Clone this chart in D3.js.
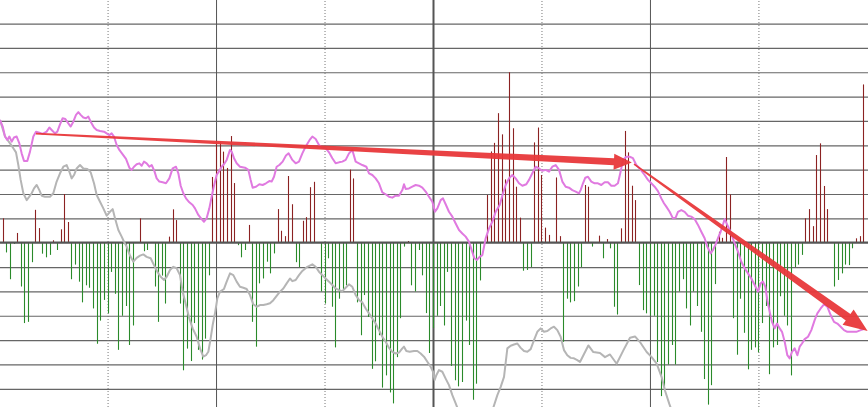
<!DOCTYPE html>
<html><head><meta charset="utf-8">
<script src="https://cdn.jsdelivr.net/npm/d3@7"></script>
<style>html,body{margin:0;padding:0;background:#fff;overflow:hidden}svg{display:block}</style>
</head><body>
<svg id="chart" width="868" height="407"></svg>
<script>
// ---- data ----
const bars = [1.0,-0.4,-1.5,-0.05,0.4,-1.8,-3.3,-3.25,-0.8,1.35,
0.6,-0.45,-0.6,-0.5,0.1,-0.3,0.55,2.0,0.85,-1.5,
-0.9,-1.6,-2.45,-1.75,-1.85,-2.7,-4.15,-3.2,-2.35,-2.9,
-1.2,-2.1,-4.4,-3.0,-2.6,-4.2,-3.4,0,1.0,-0.35,
-0.3,0,-1.8,-3.25,-1.35,-2.5,0.25,1.37,0.93,-2.5,
-5.24,-4.35,-4.86,-3.3,-4.4,-4.8,-3.94,-1.34,2.7,4.15,
4.15,3.74,3.07,4.38,2.45,-0.1,-0.6,-0.3,0.73,-3.25,
-4.27,-1.67,-1.47,-0.78,-1.26,-0.44,1.38,0.49,0.27,2.74,
1.58,-0.8,-1.0,0.9,1.05,2.28,2.5,0,-2.0,-2.5,
-0.64,-2.63,-4.3,-2.3,-1.9,-1.75,3.0,2.64,-2.45,-3.8,
-2.15,-3.05,-5.18,-4.87,-3.8,-5.95,-5.45,-6.15,-6.6,-4.7,
-3.1,-0.16,0.07,-1.75,-2.0,-0.3,-1.34,-2.89,-4.53,-3.5,
-3.0,-2.6,-3.4,-1.2,-5.06,-5.65,-5.9,-5.72,-3.2,-4.2,
-6.45,-5.79,-1.55,0,1.96,3.75,4.1,5.32,4.45,2.6,
7.0,4.7,2.3,1.03,-1.15,-1.12,-1.0,4.12,4.73,2.78,
0.62,0.32,0,2.68,0.27,-4.07,-2.3,-2.45,-2.4,-1.8,
-1.0,2.37,2.3,-0.16,0,0.29,-0.64,0.15,-0.23,-2.63,
-2.95,0.59,4.59,3.71,2.34,1.75,-1.74,-2.77,-2.9,-3.0,
-3.0,-4.9,-6.3,-6.0,-5.0,-4.2,-5.0,-2.0,-1.5,-2.7,
-3.4,-2.0,-2.6,-3.66,-5.6,-6.65,-5.85,-1.7,0.45,0.2,
3.52,1.98,-3.1,-4.6,-2.3,-3.7,-5.2,-4.4,-4.3,-4.5,
-3.3,-2.6,-5.4,-4.3,-4.2,-2.2,-3.0,-3.4,-5.45,-1.0,
-0.9,-0.5,1.0,1.38,0.68,3.6,4.08,2.33,1.38,0,
-1.8,-1.53,-1.26,-0.9,-0.92,-0.23,0.18,0.27,6.5];

const pinkIdx = [-0.75,0,0.64,1.28,1.83,2.48,3.12,3.86,4.6,5.24,5.89,6.81,7.55,8.47,9.21,10.13,11.05,12.16,12.9,13.54,
14.46,15.11,15.85,16.58,17.32,18.15,18.8,19.53,20.27,20.92,21.56,22.3,23.04,23.68,24.33,25.25,25.99,26.91,28.02,28.75,
29.49,30.13,30.78,31.52,32.26,33.18,34.1,35.02,35.67,36.31,37.05,37.79,38.43,39.07,39.81,40.55,41.2,41.93,42.58,43.32,
44.24,45.16,46.08,47.0,47.93,48.57,49.22,49.95,50.69,51.61,52.53,53.18,54.1,55.02,55.67,56.4,57.14,57.79,58.43,59.17,
59.91,60.55,61.2,61.94,62.86,63.32,63.97,64.7,65.62,67.0,67.93,68.57,69.13,70.05,70.97,71.89,72.81,73.74,74.38,75.03,
75.76,76.5,77.42,78.34,79.07,80.1,81.02,81.94,82.87,83.79,84.89,85.63,86.55,87.47,88.39,89.32,90.24,91.16,92.08,93.01,
93.93,94.85,95.77,96.69,97.61,98.54,99.46,100.56,101.3,102.22,103.14,104.06,104.99,105.91,106.83,107.75,108.67,109.59,110.52,110.98,
111.44,112.36,113.28,114.21,115.13,116.05,116.97,117.89,118.82,119.55,120.2,121.12,121.76,122.5,123.42,124.35,125.27,126.19,127.11,128.03,
128.96,129.69,130.43,131.08,131.91,132.65,133.57,134.49,135.41,136.34,137.44,138.36,139.1,140.02,140.94,141.86,142.78,143.71,144.81,145.55,
146.47,147.4,148.32,149.24,150.16,151.08,152.0,152.93,153.85,154.77,155.69,156.61,157.53,158.46,159.38,159.83,160.48,161.12,161.86,162.78,
163.7,164.62,165.55,166.47,167.39,168.31,169.23,170.15,170.89,171.54,172.46,173.38,174.3,175.22,176.15,177.53,178.45,179.37,180.29,181.21,
182.14,182.87,183.52,184.44,185.36,186.1,186.75,187.67,188.59,189.51,190.43,191.35,192.28,193.2,194.12,194.86,195.78,196.42,197.07,197.79,
198.55,199.2,199.66,200.39,201.04,201.69,202.42,203.35,204.27,205.19,206.11,207.03,207.96,208.88,209.62,210.26,210.91,211.46,212.11,212.75,
213.49,214.14,214.87,215.52,216.26,216.99,217.64,218.29,219.02,219.76,220.41,221.05,221.79,222.71,223.63,224.55,225.29,226.21,227.13,228.05,
228.97,229.9,230.82,231.74,232.66,233.58,234.68,236.07,237.27,238.19];
const pinkVal = [5.04,4.77,4.36,4.22,4.36,4.15,4.32,4.36,4.08,3.67,3.36,3.36,3.74,4.36,4.56,4.52,4.47,4.56,4.73,4.63,
4.49,4.56,4.86,5.11,5.08,4.9,4.77,4.97,5.25,5.36,5.25,5.14,5.11,5.18,4.97,4.73,4.63,4.59,4.56,4.49,
4.42,4.49,4.36,4.01,3.81,3.63,3.44,3.08,2.99,3.12,3.22,3.26,3.16,3.33,3.26,3.12,3.19,2.95,2.64,2.51,
2.48,2.44,2.64,3.05,3.12,2.85,2.34,2.03,1.82,1.66,1.55,1.41,1.14,0.97,0.86,1.0,1.41,1.89,2.34,2.78,
2.95,3.12,3.22,3.4,3.81,3.74,3.47,3.26,3.12,3.08,2.99,2.58,2.26,2.3,2.4,2.37,2.44,2.53,2.51,2.71,
3.12,3.19,3.33,3.58,3.67,3.4,3.26,3.33,3.67,3.95,4.22,4.36,4.26,4.01,3.9,3.88,3.71,3.47,3.26,3.3,
3.33,3.4,3.67,3.81,3.33,3.26,3.19,3.12,2.85,2.78,2.64,2.44,2.07,1.99,1.89,1.85,1.93,1.93,2.16,2.4,
2.21,2.23,2.3,2.37,2.34,2.26,2.1,1.89,1.68,1.27,1.41,1.75,1.82,1.58,1.27,1.07,0.79,0.52,0.38,0.25,
0.04,-0.3,-0.64,-0.71,-0.58,-0.51,0.18,0.59,0.86,1.27,1.55,2.03,2.37,2.64,2.78,2.64,2.44,2.34,2.4,2.58,
2.85,3.12,3.05,2.95,2.99,2.92,3.12,3.19,2.99,2.51,2.3,2.26,2.16,2.1,2.03,2.16,2.44,2.67,2.71,2.51,
2.44,2.44,2.37,2.48,2.48,2.34,2.34,2.44,2.92,3.4,3.53,3.53,3.47,3.19,3.05,2.78,2.58,2.44,2.3,2.12,
1.82,1.62,1.48,1.27,1.0,1.03,1.27,1.34,1.27,1.11,1.07,0.97,0.73,0.45,0.18,-0.16,-0.44,-0.3,-0.1,0.18,
0.45,0.75,0.97,0.73,0.52,0.29,-0.03,-0.37,-0.78,-1.05,-1.26,-1.47,-1.74,-2.01,-1.67,-1.6,-1.81,-2.36,-2.84,-3.25,
-3.52,-3.32,-3.52,-3.66,-4.07,-4.62,-4.75,-4.48,-4.34,-4.62,-4.27,-4.14,-3.96,-3.86,-3.59,-3.18,-2.9,-2.7,-2.53,-2.63,
-2.97,-3.25,-3.32,-3.45,-3.59,-3.66,-3.66,-3.66,-3.59,-3.55];

const grayIdx = [-0.75,0.64,2.02,2.94,3.68,4.32,4.97,5.71,6.63,7.37,8.01,8.66,9.4,10.13,10.78,11.7,13.08,14.0,14.92,15.85,
16.77,17.69,18.43,19.07,19.72,20.45,21.38,22.3,23.4,24.33,25.25,25.99,26.91,27.83,28.75,29.67,30.41,31.06,31.98,32.9,
33.55,34.28,35.2,36.13,37.05,37.97,38.89,39.81,40.92,41.84,42.76,43.69,44.61,45.35,46.27,47.19,48.11,49.03,49.77,50.69,
51.61,52.53,53.64,54.56,55.48,56.22,56.87,57.51,58.07,58.71,59.36,60.1,61.2,61.94,62.86,63.78,64.7,65.62,66.55,67.47,
68.39,69.31,70.23,71.15,72.08,73.0,73.92,74.84,75.76,76.69,77.61,78.53,79.45,80.1,81.02,81.94,82.87,84.25,85.63,86.55,
87.47,88.39,89.32,90.24,91.16,92.08,93.01,93.93,94.85,95.77,96.69,97.61,98.54,99.46,100.38,101.3,102.22,103.14,104.06,104.99,
105.91,106.83,107.75,108.67,109.59,110.52,110.98,111.62,112.55,113.75,114.67,115.59,116.51,117.44,118.36,119.0,119.46,119.92,120.66,121.58,
122.5,123.42,124.35,125.27,126.19,128.03,130.8,133.57,135.6,136.8,137.72,138.64,139.56,140.48,141.4,142.32,143.25,144.17,145.09,146.01,
146.93,147.85,148.77,149.69,150.62,151.54,152.46,153.38,154.3,155.22,156.14,157.07,157.99,158.91,159.65,161.96,163.34,165.18,166.57,167.95,
169.79,171.64,173.48,174.86,176.24,178.09,179.47,180.85,182.23,183.15,184.35,186.28];
const grayVal = [5.04,4.36,4.08,3.88,3.71,3.19,2.58,2.03,1.75,1.89,2.03,2.23,2.37,2.16,1.93,1.89,1.89,2.03,2.51,2.85,
3.12,3.19,2.92,2.64,2.78,3.05,3.19,3.05,3.03,2.89,2.44,1.96,1.68,1.41,1.11,1.27,1.38,1.0,0.52,0.25,
0.04,-0.16,-0.53,-0.78,-0.62,-0.53,-0.48,-0.58,-0.64,-0.92,-1.19,-1.4,-1.53,-1.4,-1.12,-0.99,-1.05,-1.33,-2.01,-2.56,
-3.11,-3.52,-3.86,-4.34,-4.68,-4.62,-4.48,-3.93,-3.38,-2.9,-2.29,-2.01,-1.9,-1.6,-1.26,-1.33,-1.6,-1.81,-1.85,-1.9,
-2.15,-2.53,-2.63,-2.56,-2.56,-2.53,-2.49,-2.36,-2.18,-2.01,-1.88,-1.67,-1.47,-1.58,-1.53,-1.33,-1.16,-0.99,-0.89,-0.99,
-1.19,-1.33,-1.47,-1.6,-1.74,-1.88,-1.95,-1.99,-1.85,-1.71,-1.81,-2.15,-2.36,-2.45,-2.7,-2.9,-3.11,-3.32,-3.59,-3.86,
-4.07,-4.32,-4.48,-4.55,-4.51,-4.34,-4.27,-4.45,-4.48,-4.45,-4.45,-4.55,-4.68,-4.89,-5.1,-5.3,-5.64,-5.44,-5.23,-5.3,
-5.58,-5.85,-6.26,-6.6,-6.95,-7.42,-7.7,-7.42,-6.81,-6.26,-5.92,-5.51,-4.34,-4.23,-4.18,-4.14,-4.32,-4.45,-4.48,-4.37,
-4.0,-3.66,-3.52,-3.66,-3.63,-3.52,-3.45,-3.59,-3.86,-4.41,-4.62,-4.73,-4.75,-4.82,-4.9,-4.22,-4.49,-4.53,-4.7,-4.59,
-4.97,-4.42,-3.9,-3.85,-4.08,-4.49,-4.7,-4.97,-5.52,-6.07,-6.62,-7.42];

const gridVals = [-6,-5,-4,-3,-2,-1,1,2,3,4,5,6,7,8,9];
const sepIdx   = [29, 59, 89, 119, 149, 179, 209];
const sepKind  = ["dot","solid","dot","bold","dot","solid","dot"];

// trend arrows: [startIdx, startVal, endIdx, endVal]
const arrowFrom = [[9.2, 4.48], [174.6, 3.23]];
const arrowTo   = [[174.0, 3.29], [239.2, -3.63]];

// ---- drawing ----
const W = 868, H = 407;
const svg = d3.select("#chart");
const x = d3.scaleLinear().domain([0, bars.length - 1]).range([2.7, 863.3]);
const y = d3.scaleLinear().domain([0, 9]).range([242.7, 23.55]);

// horizontal grid
const gy = svg.append("g").attr("transform", "translate(0,0)")
  .call(d3.axisLeft(y).tickValues(gridVals).tickSize(-W).tickFormat(""));
gy.select(".domain").remove();
gy.selectAll(".tick line").attr("stroke", "#666").attr("stroke-width", 1.2);

// vertical separators
const gx = svg.append("g").attr("transform", `translate(0,${H})`)
  .call(d3.axisBottom(x).tickValues(sepIdx).tickSize(-H).tickFormat(""));
gx.select(".domain").remove();
gx.selectAll(".tick line").each(function(d, i) {
  const k = sepKind[i];
  d3.select(this)
    .attr("stroke", k === "dot" ? "#777" : "#555")
    .attr("stroke-width", k === "bold" ? 2 : 1)
    .attr("stroke-dasharray", k === "dot" ? "1,2" : null);
});

// bars
svg.append("g").selectAll("line").data(bars).join("line")
  .attr("x1", (d, i) => Math.round(x(i)) + 0.5)
  .attr("x2", (d, i) => Math.round(x(i)) + 0.5)
  .attr("y1", y(0))
  .attr("y2", d => y(d))
  .attr("stroke", d => d >= 0 ? "#8b2222" : "#2a8a2a")
  .attr("stroke-width", 1.1);

// zero line
svg.append("line").attr("x1", 0).attr("x2", W)
  .attr("y1", y(0)).attr("y2", y(0))
  .attr("stroke", "#555").attr("stroke-width", 2.2);

const line = d3.line().x(d => x(d[0])).y(d => y(d[1]));
svg.append("path").datum(d3.zip(grayIdx, grayVal))
  .attr("d", line).attr("fill", "none")
  .attr("stroke", "#b5b5b5").attr("stroke-width", 2).attr("stroke-linejoin", "round");
svg.append("path").datum(d3.zip(pinkIdx, pinkVal))
  .attr("d", line).attr("fill", "none")
  .attr("stroke", "#e07ae0").attr("stroke-width", 2).attr("stroke-linejoin", "round");

// arrows
function arrowPoly(p0, p1, w0, w1, hl, hw) {
  const x0 = x(p0[0]), y0 = y(p0[1]), x1 = x(p1[0]), y1 = y(p1[1]);
  const dx = x1 - x0, dy = y1 - y0, L = Math.hypot(dx, dy);
  const ux = dx / L, uy = dy / L, nx = -uy, ny = ux;
  const bx = x1 - ux * hl, by = y1 - uy * hl;
  return [
    [x0 + nx * w0 / 2, y0 + ny * w0 / 2],
    [bx + nx * w1 / 2, by + ny * w1 / 2],
    [bx + nx * hw, by + ny * hw],
    [x1, y1],
    [bx - nx * hw, by - ny * hw],
    [bx - nx * w1 / 2, by - ny * w1 / 2],
    [x0 - nx * w0 / 2, y0 - ny * w0 / 2]
  ];
}
const arrowSpec = [[1.6, 7, 18, 8], [1.6, 8, 24, 9.5]];
arrowFrom.forEach((p, i) => {
  const s = arrowSpec[i];
  svg.append("polygon")
    .attr("points", arrowPoly(p, arrowTo[i], s[0], s[1], s[2], s[3]).map(q => q.join(",")).join(" "))
    .attr("fill", "#e8383a").attr("opacity", 0.95);
});
</script>
</body></html>
